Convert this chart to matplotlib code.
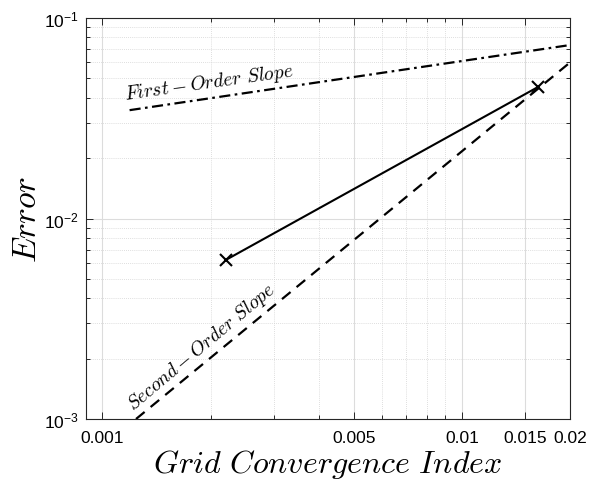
import matplotlib
matplotlib.use("Agg")
import matplotlib.pyplot as plt
from matplotlib.ticker import FixedLocator, FixedFormatter, LogLocator, NullFormatter

plt.rcParams['font.family'] = ['Liberation Sans', 'DejaVu Sans']
plt.rcParams['mathtext.fontset'] = 'cm'

# Grid convergence study results
gci = [0.0022, 0.0163]
error = [0.0062, 0.0453]

# Reference slope lines
first_order_x = [0.00119, 0.02]
first_order_y = [0.0347, 0.0733]
second_order_x = [0.00124, 0.02]
second_order_y = [0.001, 0.06]

x_ticks = [0.001, 0.005, 0.01, 0.015, 0.02]
x_tick_labels = ['0.001', '0.005', '0.01', '0.015', '0.02']
x_minor = [0.002, 0.003, 0.004, 0.006, 0.007, 0.008, 0.009]

fig = plt.figure(figsize=(5.9, 4.81), dpi=100)
ax = fig.add_axes([86 / 590, 61 / 481, 484 / 590, 401 / 481])
ax.set_xscale('log')
ax.set_yscale('log')
ax.set_xlim(0.0009, 0.02)
ax.set_ylim(1e-3, 1e-1)

ax.plot(gci, error, color='black', lw=1.5, marker='x', ms=8, mew=1.5, zorder=4)
ax.plot(first_order_x, first_order_y, color='black', lw=1.6, ls=(0, (5, 2, 1.2, 2)), zorder=3)
ax.plot(second_order_x, second_order_y, color='black', lw=1.6, ls=(0, (5, 3.5)), zorder=3)

ax.text(0.00116, 0.0392, r'$First-Order\ Slope$', fontsize=14, rotation=8,
        rotation_mode='anchor', ha='left', va='baseline')
ax.text(0.001215, 0.00110, r'$Second-Order\ Slope$', fontsize=14, rotation=40,
        rotation_mode='anchor', ha='left', va='baseline')

ax.xaxis.set_major_locator(FixedLocator(x_ticks))
ax.xaxis.set_major_formatter(FixedFormatter(x_tick_labels))
ax.xaxis.set_minor_locator(FixedLocator(x_minor))
ax.xaxis.set_minor_formatter(NullFormatter())
ax.yaxis.set_major_locator(LogLocator(base=10, numticks=10))
ax.yaxis.set_minor_locator(LogLocator(base=10, subs=range(2, 10), numticks=10))
ax.yaxis.set_minor_formatter(NullFormatter())

ax.grid(True, which='major', color='#dcdcdc', lw=0.8, ls='-', zorder=0)
ax.grid(True, which='minor', color='#d4d4d4', lw=0.6, ls=(0, (1, 1.5)), zorder=0)
ax.set_axisbelow(True)

ax.tick_params(which='both', direction='in', top=True, right=True, colors='#262626',
               labelcolor='black', labelsize=12.5, width=0.7)
ax.tick_params(which='major', length=5)
ax.tick_params(which='minor', length=3)
ax.tick_params(axis='x', which='major', pad=8)
ax.tick_params(axis='y', which='major', pad=5)
for s in ax.spines.values():
    s.set_color('#262626')
    s.set_linewidth(0.8)

ax.set_xlabel(r'$Grid\ Convergence\ Index$', fontsize=23, labelpad=1.5)
ax.set_ylabel(r'$Error$', fontsize=24, labelpad=1)

fig.savefig('out.png', dpi=100)
